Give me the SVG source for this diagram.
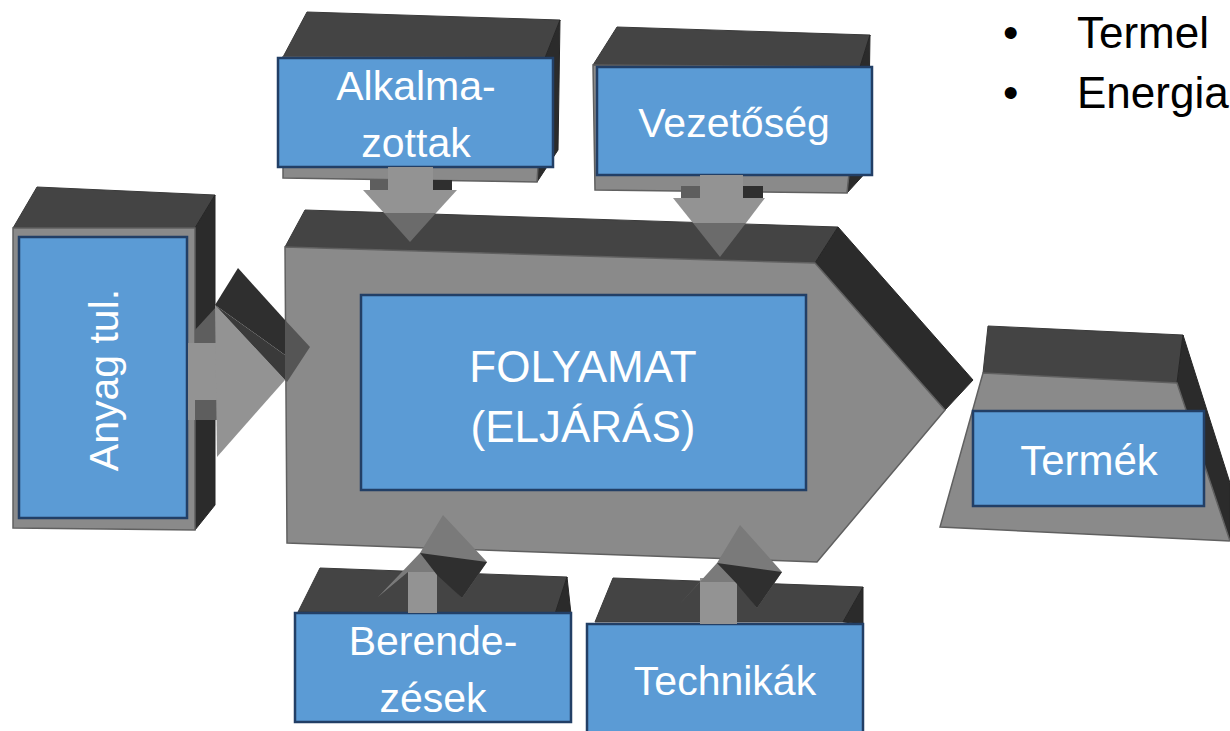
<svg xmlns="http://www.w3.org/2000/svg" width="1230" height="731" viewBox="0 0 1230 731">
<style>
.blue{fill:#5b9bd5;stroke:#223f66;stroke-width:2.5}
.lbl{fill:#ffffff;font-family:"Liberation Sans",Arial,sans-serif;font-size:41px;text-anchor:middle}
.big{font-size:44px}
.med{font-size:42px}
.top{fill:#444444;stroke:#3a3a3a;stroke-width:1}
.side{fill:#2b2b2b;stroke:#262626;stroke-width:1}
.front{fill:#8a8a8a;stroke:#606060;stroke-width:1.5}
.light{fill:#939393}
.mid{fill:#7a7a7a}
.dark{fill:#2f2f2f}
.shade{fill:#5e5e5e}
.bul{fill:#000000;font-family:"Liberation Sans",Arial,sans-serif;font-size:44px}
</style>
<rect width="1230" height="731" fill="#ffffff"/>

<g id="node-folyamat">
<polygon class="top" points="285,247 305,210 838,227 815,263"/>
<polygon class="side" points="815,263 838,227 973,380 945,410"/>
<polygon class="front" points="285,247 815,263 945,410 817,562 287,543"/>
<rect class="blue" x="361" y="295" width="445" height="195"/>
<text class="lbl big" x="583" y="382">FOLYAMAT</text>
<text class="lbl big" x="583" y="442">(ELJÁRÁS)</text>
</g>

<g id="node-alkalmazottak">
<polygon class="top" points="283,57 307,12 560,20 545,58"/>
<polygon class="side" points="545,58 560,20 558,150 537,182"/>
<polygon class="front" points="283,57 545,58 537,182 283,178"/>
<rect class="blue" x="278" y="58" width="275" height="109"/>
<text class="lbl" x="416" y="100">Alkalma-</text>
<text class="lbl" x="416" y="157">zottak</text>
</g>

<g id="node-vezetoseg">
<polygon class="top" points="593,65 617,27 870,35 860,67"/>
<polygon class="side" points="860,67 870,35 868,170 847,193"/>
<polygon class="front" points="593,65 860,67 847,193 595,190"/>
<rect class="blue" x="597" y="67" width="275" height="108"/>
<text class="lbl" x="734" y="137">Vezetőség</text>
</g>

<g id="node-anyag">
<polygon class="top" points="13,228 37,187 215,195 195,228"/>
<polygon class="side" points="195,228 215,195 215,505 195,530"/>
<polygon class="front" points="13,228 195,228 195,530 13,528"/>
<rect class="blue" x="19" y="237" width="168" height="281"/>
<text class="lbl" transform="translate(118,380) rotate(-90)">Anyag tul.</text>
</g>

<g id="node-termek">
<polygon class="top" points="988,326 1183,335 1177,383 983,373"/>
<polygon class="side" points="1183,335 1230,483 1230,541 1177,383"/>
<polygon class="front" points="983,373 1177,383 1230,541 940,527"/>
<rect class="blue" x="973" y="411" width="231" height="95"/>
<text class="lbl med" x="1089" y="475">Termék</text>
</g>

<g id="node-berendezesek">
<polygon class="top" points="298,612 320,568 567,577 555,614"/>
<polygon class="side" points="555,614 567,577 571,614"/>
<rect class="blue" x="295" y="613" width="276" height="109"/>
<text class="lbl" x="433" y="655">Berende-</text>
<text class="lbl" x="433" y="712">zések</text>
</g>

<g id="node-technikak">
<polygon class="top" points="595,622 613,578 863,587 843,622"/>
<polygon class="side" points="843,622 863,587 863,624"/>
<rect class="blue" x="587" y="624" width="276" height="115"/>
<text class="lbl" x="725" y="695">Technikák</text>
</g>

<g id="connectors">
<polygon class="light" points="388,167 433,167 433,192 388,192"/>
<polygon class="shade" points="370,180 388,180 388,192 370,192"/>
<polygon class="dark" points="433,180 452,180 452,192 433,192"/>
<polygon class="light" points="363,190 457,190 436,213 384,213"/>
<polygon points="384,213 436,213 410,242" fill="#6b6b6b"/>

<polygon class="light" points="700,175 743,175 743,198 700,198"/>
<polygon class="shade" points="681,186 700,186 700,198 681,198"/>
<polygon class="dark" points="743,186 763,186 763,198 743,198"/>
<polygon class="light" points="673,198 765,198 746,223 693,223"/>
<polygon points="693,223 746,223 720,257" fill="#6b6b6b"/>

<polygon class="light" points="188,343 217,343 217,420 188,420"/>
<polygon class="shade" points="195,343 195,330 217,306 217,343"/>
<polygon class="shade" points="195,420 217,420 217,400 195,400"/>
<polygon class="dark" points="215,305 238,268 285,320 285,355"/>
<polygon class="light" points="215,305 285,380 217,457"/>
<polygon points="285,320 310,347 287,382 285,380" fill="#555555"/>
<polygon points="285,355 285,380 215,305" fill="#3a3a3a"/>

<polygon class="light" points="408,572 437,572 437,613 408,613"/>
<polygon class="mid" points="443,515 420,553 378,597 408,572 437,572 462,598 487,562"/>
<polygon class="dark" points="420,553 487,562 462,598 437,575"/>

<polygon class="light" points="700,578 737,578 737,624 700,624"/>
<polygon class="mid" points="740,525 717,563 677,607 700,582 737,582 757,608 782,572"/>
<polygon class="dark" points="717,563 782,572 757,608 737,584"/>
</g>

<g id="bullets">
<text class="bul" x="1003" y="48">•</text>
<text class="bul" x="1077" y="48">Termel</text>
<text class="bul" x="1003" y="108">•</text>
<text class="bul" x="1077" y="108">Energia</text>
</g>
</svg>
